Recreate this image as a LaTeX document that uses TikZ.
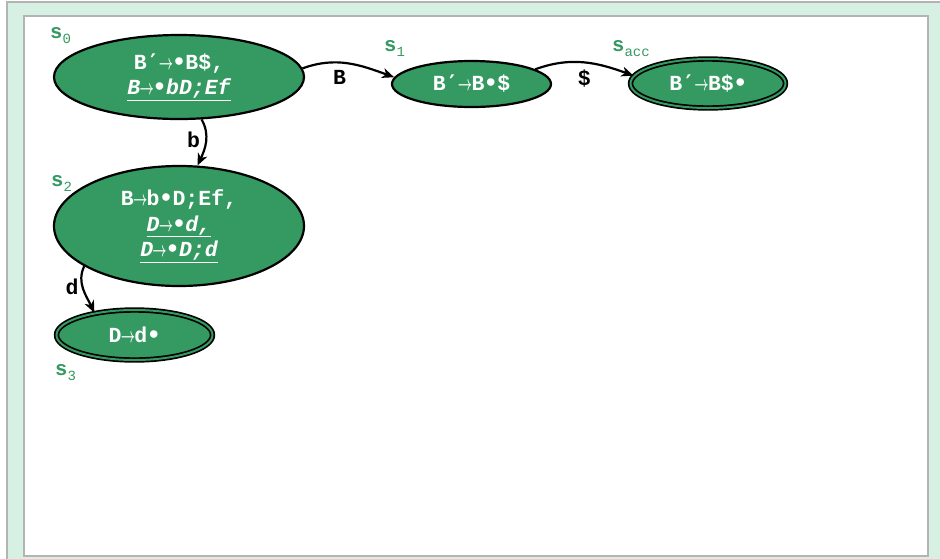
\documentclass[tikz,border=0pt]{standalone}
\usepackage{fontspec}
\usepackage{graphicx}
\setmonofont{Liberation Mono}
\newfontfamily\symfont{DejaVu Sans Mono}
\usetikzlibrary{shapes.geometric,arrows.meta}

\definecolor{stategreen}{HTML}{349A62}
\definecolor{panelgreen}{HTML}{D6F1E4}
\definecolor{framegray}{HTML}{B4B4B4}

\tikzset{
  state/.style={ellipse,draw=black,line width=2.2pt,fill=stategreen,text=white,
    inner sep=0pt,font=\ttfamily\bfseries\fontsize{21.5}{25.5}\selectfont,align=center},
  accept/.style={state,draw=black,double=stategreen,double distance=2pt,line width=1.7pt},
  trans/.style={line width=2.2pt,-{Stealth[length=12pt,width=10pt,inset=3.5pt]}},
  edgelbl/.style={font=\ttfamily\bfseries\fontsize{21.5}{25.5}\selectfont,text=black,inner sep=2pt},
  statelbl/.style={text=stategreen,inner sep=0pt,anchor=south west}
}
\newcommand{\sname}[1]{{\ttfamily\bfseries\fontsize{20.5}{20}\selectfont s}\raisebox{-5pt}{\ttfamily\fontsize{14}{14}\selectfont #1}}
\newcommand{\itm}[1]{\underline{\itshape #1}}
\newcommand{\rarr}{\makebox[0.6em]{\scalebox{0.6}[1]{\boldmath$\rightarrow$}}}
\newcommand{\dotm}{{\symfont\bfseries •}}
\newcommand{\prm}{{\symfont\bfseries ′}}

\begin{document}
\begin{tikzpicture}[x=1pt,y=-1pt]
\useasboundingbox (0,0) rectangle (940,558);
% panels
\fill[panelgreen] (7,2) rectangle (945,563);
\draw[framegray,line width=2pt] (7,563) -- (7,2) -- (945,2);
\draw[framegray,fill=white,line width=2pt] (24,16) rectangle (928,556);

% states
\node[state,minimum width=250pt,minimum height=84pt] (s0) at (179,77)
  {B\prm\rarr\dotm B\$,\\\itm{B\rarr\dotm bD;Ef}};
\node[state,minimum width=159pt,minimum height=46pt] (s1) at (471.5,84) {B\prm\rarr B\dotm\$};
\node[accept,minimum width=155pt,minimum height=49pt] (sacc) at (708,83.5) {B\prm\rarr B\$\dotm};
\node[state,minimum width=250pt,minimum height=120pt] (s2) at (179,226)
  {B\rarr b\dotm D;Ef,\\\itm{D\rarr\dotm d,}\\\itm{D\rarr\dotm D;d}};
\node[accept,minimum width=156pt,minimum height=50pt] (s3) at (134.5,335) {D\rarr d\dotm};

% state names
\node[statelbl] (n0) at (50,44) {\sname{0}};
\node[statelbl] (n1) at (384,57) {\sname{1}};
\node[statelbl] (nacc) at (612,57) {\sname{acc}};
\node[statelbl] (n2) at (51,192) {\sname{2}};
\node[statelbl] (n3) at (55,381) {\sname{3}};

% transitions
\draw[trans] (s0.4) to[out=20,in=160] node[edgelbl,below=5pt,pos=0.4] (lB) {B} (s1.175);
\draw[trans] (s1.13) to[out=20,in=160] node[edgelbl,below=4pt,pos=0.5] (ldollar) {\$} (sacc.174);
\draw[trans] (s0.-62) to[out=-60,in=65] node[edgelbl,left=3pt,pos=0.45] (lb) {b} (s2.73);
\draw[trans] (s2.-157) to[out=-115,in=115] node[edgelbl,left=1pt,pos=0.45] (ld) {d} (s3.151);
\end{tikzpicture}
\end{document}
